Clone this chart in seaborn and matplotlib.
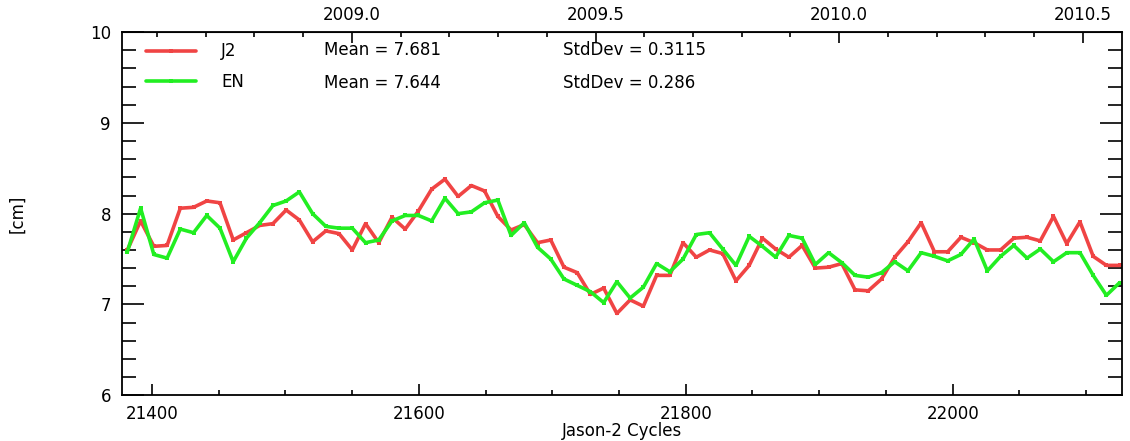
#!/usr/bin/env python3
import matplotlib
matplotlib.use('Agg')
import matplotlib.pyplot as plt
from matplotlib.ticker import MultipleLocator, FixedLocator, FormatStrFormatter
import numpy as np
import pandas as pd
import seaborn as sns

sns.set_style('ticks')
plt.rcParams['font.family'] = ['DejaVu Sans']
plt.rcParams['text.color'] = 'black'
plt.rcParams['axes.labelcolor'] = 'black'
plt.rcParams['xtick.color'] = 'black'
plt.rcParams['ytick.color'] = 'black'

# cycle dates (days since 1950), one per Jason-2 cycle
first_day = 21381.5
cycle_len = 9.9156
n_cycles = 76

j2 = [7.60, 7.92, 7.64, 7.65, 8.06, 8.07, 8.14, 8.12, 7.71, 7.79,
      7.87, 7.89, 8.04, 7.93, 7.69, 7.81, 7.78, 7.60, 7.89, 7.68,
      7.96, 7.83, 8.03, 8.27, 8.38, 8.19, 8.31, 8.25, 7.97, 7.82,
      7.88, 7.68, 7.71, 7.41, 7.35, 7.11, 7.18, 6.90, 7.05, 6.98,
      7.32, 7.32, 7.68, 7.52, 7.60, 7.56, 7.26, 7.43, 7.73, 7.61,
      7.52, 7.65, 7.40, 7.41, 7.45, 7.16, 7.15, 7.28, 7.52, 7.69,
      7.90, 7.58, 7.58, 7.74, 7.68, 7.60, 7.60, 7.73, 7.74, 7.70,
      7.97, 7.67, 7.91, 7.53, 7.43, 7.43]
en = [7.58, 8.06, 7.55, 7.51, 7.83, 7.79, 7.98, 7.84, 7.47, 7.73,
      7.90, 8.09, 8.14, 8.24, 8.00, 7.86, 7.84, 7.84, 7.68, 7.71,
      7.92, 7.98, 7.98, 7.92, 8.17, 8.00, 8.02, 8.12, 8.15, 7.76,
      7.90, 7.63, 7.50, 7.28, 7.21, 7.14, 7.02, 7.25, 7.07, 7.19,
      7.45, 7.36, 7.50, 7.77, 7.79, 7.61, 7.43, 7.75, 7.64, 7.52,
      7.76, 7.73, 7.44, 7.57, 7.46, 7.32, 7.30, 7.35, 7.47, 7.37,
      7.57, 7.53, 7.48, 7.55, 7.72, 7.37, 7.53, 7.65, 7.51, 7.61,
      7.47, 7.57, 7.57, 7.32, 7.10, 7.24]

series_names = ['J2', 'EN']
series_colors = ['#f04444', '#22ee22']
mean_labels = ['Mean = 7.681', 'Mean = 7.644']
std_labels = ['StdDev = 0.3115', 'StdDev = 0.286']
year_ticks = [2009.0, 2009.5, 2010.0, 2010.5]

days = first_day + cycle_len * np.arange(n_cycles)
df = pd.DataFrame({
    'day': np.concatenate([days, days]),
    'value': j2 + en,
    'mission': ['J2'] * n_cycles + ['EN'] * n_cycles,
})


def day_to_year(d):
    return 1950 + d / 365.25


def year_to_day(y):
    return (y - 1950) * 365.25


fig = plt.figure(figsize=(11.3, 4.41), dpi=100)
ax = fig.add_axes([0.108, 0.104, 0.885, 0.823])

for name, color in zip(series_names, series_colors):
    sns.lineplot(
        data=df[df['mission'] == name], x='day', y='value',
        color=color, linewidth=2.6, marker='s', markersize=3.2,
        markeredgewidth=0, label=name, ax=ax,
    )

ax.set_xlim(21377.5, 22127)
ax.set_ylim(6, 10)
ax.xaxis.set_major_locator(MultipleLocator(200))
ax.xaxis.set_minor_locator(MultipleLocator(50))
ax.yaxis.set_major_locator(MultipleLocator(1))
ax.yaxis.set_minor_locator(MultipleLocator(0.2))
ax.tick_params(which='both', direction='in', right=True, labelsize=12,
               width=1.2)
ax.tick_params(axis='x', which='major', length=8, pad=7)
ax.tick_params(axis='x', which='minor', length=3.5)
ax.tick_params(axis='y', which='major', length=16, pad=8)
ax.tick_params(axis='y', which='minor', length=10)
for sp in ax.spines.values():
    sp.set_linewidth(1.3)
    sp.set_color('black')

top = ax.secondary_xaxis('top', functions=(day_to_year, year_to_day))
top.xaxis.set_major_locator(FixedLocator(year_ticks))
top.xaxis.set_minor_locator(MultipleLocator(0.1))
top.xaxis.set_major_formatter(FormatStrFormatter('%.1f'))
top.tick_params(which='both', direction='in', labelsize=12, width=1.2)
top.tick_params(which='major', length=8, pad=6)
top.tick_params(which='minor', length=3.5)

ax.set_xlabel('Jason-2 Cycles', fontsize=12)
ax.set_ylabel('[cm]', fontsize=12)
ax.xaxis.set_label_coords(0.5, -0.074)
ax.yaxis.set_label_coords(-0.096, 0.5)

ax.legend(loc='center left', bbox_to_anchor=(0.024, 0.905), frameon=False,
          fontsize=12, handlelength=3.0, handletextpad=1.5,
          borderpad=0, borderaxespad=0, labelspacing=0.75)
for row_y, m, s in zip([0.950, 0.860], mean_labels, std_labels):
    ax.text(0.202, row_y, m, transform=ax.transAxes, va='center', fontsize=12)
    ax.text(0.441, row_y, s, transform=ax.transAxes, va='center', fontsize=12)

fig.savefig('out.png', dpi=100, facecolor='white')
